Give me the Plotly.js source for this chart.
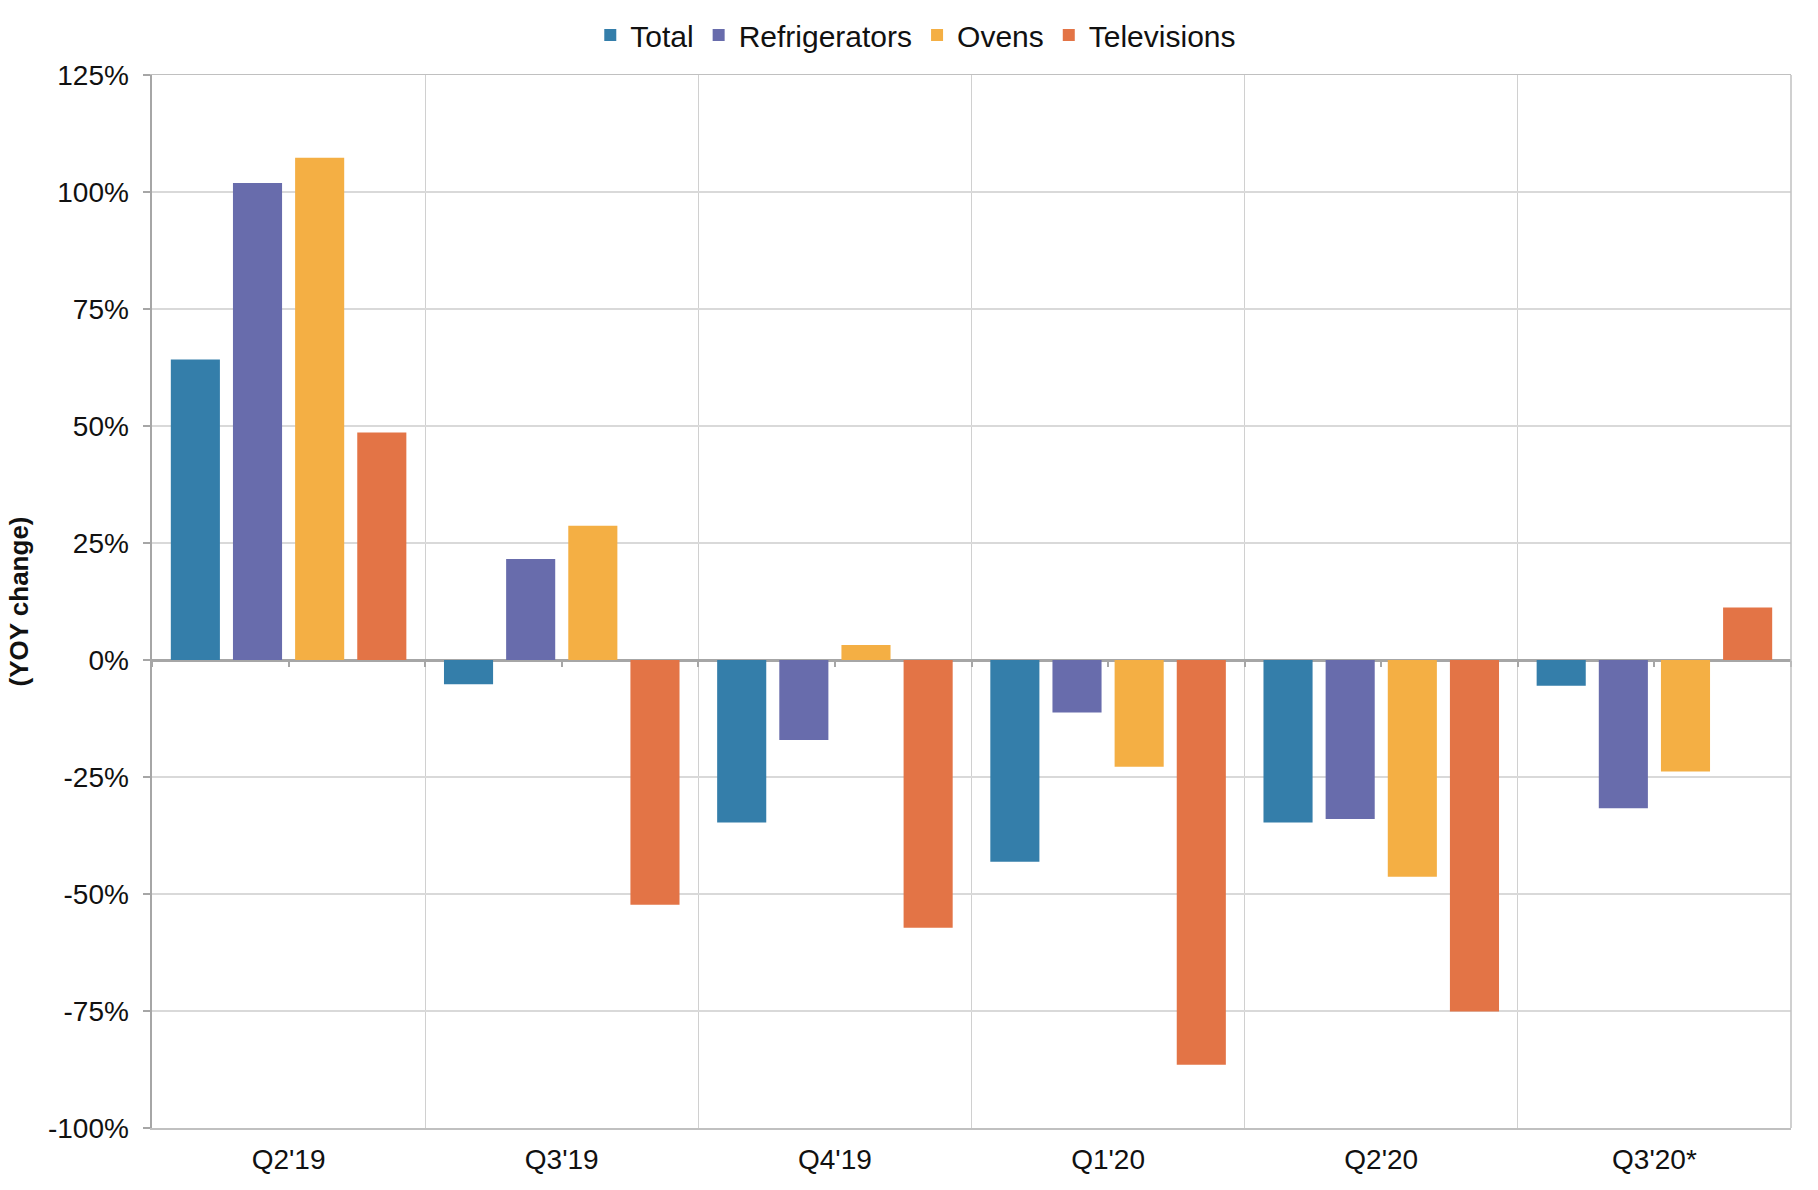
<!DOCTYPE html>
<html>
<head>
<meta charset="utf-8">
<script src="https://cdn.plot.ly/plotly-3.0.1.min.js"></script>
<style>
  html, body { margin: 0; padding: 0; background: #ffffff; }
  #chart { width: 1818px; height: 1190px; }
</style>
</head>
<body>
<div id="chart"></div>
<script>
const categories = ["Q2'19", "Q3'19", "Q4'19", "Q1'20", "Q2'20", "Q3'20*"];
const totalValues = [64.2, -5.2, -34.7, -43.1, -34.7, -5.5];
const refrigeratorValues = [101.9, 21.6, -17.1, -11.2, -34.0, -31.7];
const ovenValues = [107.3, 28.7, 3.2, -22.8, -46.3, -23.8];
const televisionValues = [48.6, -52.3, -57.2, -86.5, -75.1, 11.2];
const yTickValues = [-100, -75, -50, -25, 0, 25, 50, 75, 100, 125];
const yTickLabels = ["-100%", "-75%", "-50%", "-25%", "0%", "25%", "50%", "75%", "100%", "125%"];

const seriesNames = ["Total", "Refrigerators", "Ovens", "Televisions"];
const seriesColors = ["#347EAA", "#686CAC", "#F4AF44", "#E37446"];
const seriesValues = [totalValues, refrigeratorValues, ovenValues, televisionValues];

const font = "Liberation Sans, Arial, sans-serif";

const traces = seriesNames.map((name, i) => ({
  type: "bar",
  name: name,
  x: categories,
  y: seriesValues[i],
  marker: { color: seriesColors[i], line: { width: 0 } },
  hoverinfo: "x+y+name"
}));

// empty helper trace so the zero-line tick axis (x2) is drawn
traces.push({
  type: "scatter",
  mode: "markers",
  x: [],
  y: [],
  xaxis: "x2",
  yaxis: "y",
  showlegend: false,
  hoverinfo: "skip"
});

const layout = {
  width: 1818,
  height: 1190,
  paper_bgcolor: "#ffffff",
  plot_bgcolor: "#ffffff",
  margin: { l: 152, r: 27, t: 75, b: 62, autoexpand: false },
  font: { family: font, size: 28, color: "#111111" },
  barmode: "group",
  bargap: 0.09,
  bargroupgap: 0.21,
  showlegend: true,
  legend: {
    orientation: "h",
    x: 0.466,
    xanchor: "center",
    y: 1.038,
    yanchor: "middle",
    font: { family: font, size: 30, color: "#111111" },
    itemwidth: 30,
    tracegroupgap: 0,
    bgcolor: "rgba(0,0,0,0)"
  },
  xaxis: {
    type: "category",
    categoryorder: "array",
    categoryarray: categories,
    tickson: "boundaries",
    showgrid: true,
    gridcolor: "#d0d0d0",
    gridwidth: 1,
    showline: true,
    mirror: true,
    linecolor: "#c0c0c0",
    linewidth: 1.5,
    ticks: "",
    ticklabelstandoff: 6,
    tickfont: { family: font, size: 28, color: "#111111" },
    zeroline: false,
    automargin: false,
    fixedrange: true
  },
  xaxis2: {
    type: "linear",
    overlaying: "x",
    anchor: "free",
    position: 100 / 225,
    side: "bottom",
    range: [-0.5, 5.5],
    tick0: -0.5,
    dtick: 0.5,
    ticks: "outside",
    ticklen: 6,
    tickwidth: 2,
    tickcolor: "#a6a6a6",
    showticklabels: false,
    showgrid: false,
    zeroline: false,
    showline: false,
    automargin: false,
    fixedrange: true
  },
  yaxis: {
    range: [-100, 125],
    tickvals: yTickValues,
    ticktext: yTickLabels,
    showgrid: true,
    gridcolor: "#d9d9d9",
    gridwidth: 1.5,
    zeroline: true,
    zerolinecolor: "#a6a6a6",
    zerolinewidth: 3,
    showline: true,
    linecolor: "#a6a6a6",
    linewidth: 2.5,
    ticks: "outside",
    ticklen: 7,
    tickwidth: 2,
    tickcolor: "#a6a6a6",
    ticklabelstandoff: 8,
    tickfont: { family: font, size: 28, color: "#111111" },
    title: {
      text: "(YOY change)",
      font: { family: font, size: 26, color: "#111111", weight: "bold" },
      standoff: 12
    },
    automargin: false,
    fixedrange: true
  },
  shapes: [
    {
      type: "line",
      xref: "paper",
      yref: "paper",
      x0: 1, x1: 1, y0: 0, y1: 1,
      line: { color: "#c0c0c0", width: 1.5 },
      layer: "above"
    }
  ]
};

Plotly.newPlot("chart", traces, layout, { displayModeBar: false, staticPlot: true });
</script>
</body>
</html>
